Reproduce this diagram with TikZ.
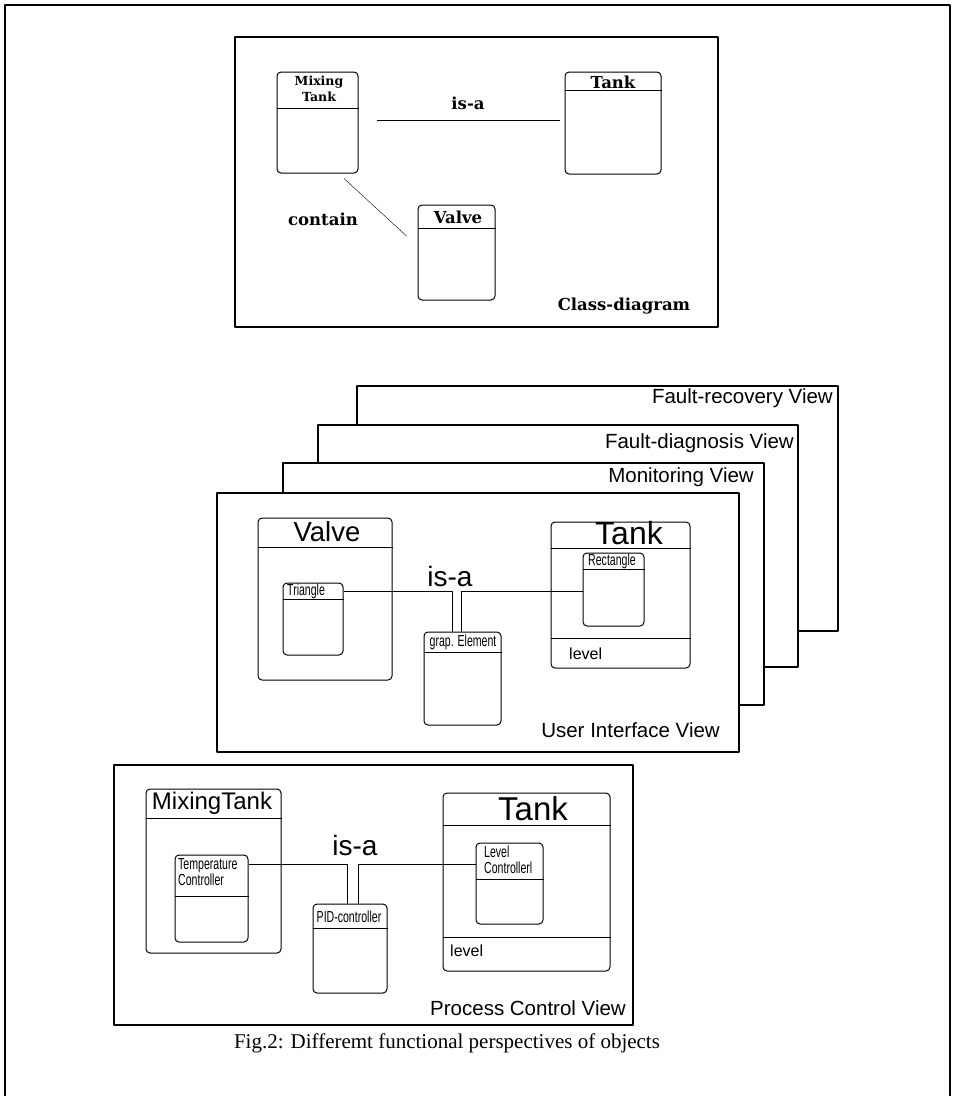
\documentclass[tikz,border=0pt]{standalone}
\usepackage{fontspec}
\setmainfont{Liberation Serif}
\newfontfamily\viewfont{Liberation Sans}
\newfontfamily\narrowfont[FakeStretch=0.66]{Liberation Sans}
\newfontfamily\slabfont{DejaVu Serif}

\tikzset{
  cls/.style={draw, rounded corners=4pt, inner sep=0pt, line width=1pt},
  viewbox/.style={draw, fill=white, inner sep=0pt, line width=1.2pt},
  slab/.style={font=\slabfont\bfseries\fontsize{16.5}{18}\selectfont, inner sep=1pt},
  slabsmall/.style={font=\slabfont\bfseries\fontsize{12.5}{16}\selectfont, inner sep=1pt, align=center},
  viewlabel/.style={font=\viewfont\fontsize{20.5}{22}\selectfont, anchor=east, inner sep=1pt},
  bigname/.style={font=\viewfont\fontsize{27.5}{28}\selectfont, inner sep=1pt},
  attr/.style={font=\viewfont\fontsize{16}{18}\selectfont, anchor=west, inner sep=1pt},
  small/.style={font=\narrowfont\fontsize{16}{16}\selectfont, inner sep=1pt, align=left}
}

\begin{document}
\begin{tikzpicture}[x=1pt, y=-1pt, line join=round]
                \useasboundingbox (0,0) rectangle (955,1096);
                \draw[line width=1.6pt] (5,1096) -- (5,5) -- (950,5) -- (950,1096);

                \node[viewbox, minimum width=483pt, minimum height=290pt] (cd) at (476.5,182) {};
                \node[cls, minimum width=81pt, minimum height=101pt] (mt) at (317.5,122.5) {};
                \node[cls, minimum width=96pt, minimum height=102pt] (tk) at (613,123) {};
                \node[cls, minimum width=77pt, minimum height=95pt] (vl) at (456.5,252.5) {};
                \draw (mt.west |- 0,108) -- (mt.east |- 0,108);
                \draw (tk.west |- 0,90) -- (tk.east |- 0,90);
                \draw (vl.west |- 0,228) -- (vl.east |- 0,228);
                \node[slabsmall] (mtname) at (319,89) {Mixing\\Tank};
                \node[slab] (tkname) at (613,82) {Tank};
                \node[slab] (vlname) at (458,217) {Valve};
                \draw ([shift={(18,-2.5)}]mt.east) -- node[slab, above=9pt] (cdisa) {is-a} ([shift={(-5,-3)}]tk.west);
                \draw ([shift={(26.5,5)}]mt.south) -- ([shift={(-11,-16.5)}]vl.west);
                \node[slab] (contain) at (323,219) {contain};
                \node[slab] (cdlabel) at (624,306) {Class-diagram};

                \node[viewbox, minimum width=481pt, minimum height=245pt] (fr) at (597.5,508.5) {};
                \node[viewlabel] (frlabel) at (834,398) {Fault-recovery View};
                \node[viewbox, minimum width=480pt, minimum height=242pt] (fd) at (558,546) {};
                \node[viewlabel] (fdlabel) at (795,443) {Fault-diagnosis View};
                \node[viewbox, minimum width=481pt, minimum height=242pt] (mon) at (523.5,584) {};
                \node[viewlabel] (monlabel) at (755,477) {Monitoring View};
                \node[viewbox, minimum width=522pt, minimum height=259pt] (ui) at (478,622.5) {};
                \node[viewlabel] (uilabel) at (721,730) {User Interface View};

                \node[cls, minimum width=134pt, minimum height=162pt] (uvl) at (325,599) {};
                \draw (uvl.west |- 0,547) -- (uvl.east |- 0,547);
                \node[bigname] (uvlname) at (327,532) {Valve};
                \node[cls, minimum width=60pt, minimum height=72pt] (tri) at (313,619) {};
                \draw (tri.west |- 0,599) -- (tri.east |- 0,599);
                \node[small, anchor=west] (triname) at (286,591) {Triangle};
                \node[cls, minimum width=139pt, minimum height=146pt] (utk) at (620.5,595) {};
                \draw (utk.west |- 0,548) -- (utk.east |- 0,548);
                \draw (utk.west |- 0,638) -- (utk.east |- 0,638);
                \node[bigname, font=\viewfont\fontsize{32}{32}\selectfont] (utkname) at (629,533) {Tank};
                \node[attr] (ulevel) at (568,654) {level};
                \node[cls, minimum width=61pt, minimum height=73pt] (rect) at (613.5,589.5) {};
                \draw (rect.west |- 0,569) -- (rect.east |- 0,569);
                \node[small] (rectname) at (612,561) {Rectangle};
                \node[cls, minimum width=77pt, minimum height=93pt] (grap) at (462.5,678.5) {};
                \draw (grap.west |- 0,652) -- (grap.east |- 0,652);
                \node[small] (grapname) at (463,642) {grap. Element};
                \coordinate (uijoin) at (0,591);
                \draw (tri.east |- uijoin) -| ([xshift=-10pt]grap.north);
                \draw (rect.west |- uijoin) -| ([xshift=-1pt]grap.north);
                \node[bigname, font=\viewfont\fontsize{28}{30}\selectfont] (uiisa) at (450,576) {is-a};

                \node[viewbox, minimum width=519pt, minimum height=260pt] (pcv) at (373.5,895) {};
                \node[viewlabel] (pcvlabel) at (627,1008) {Process Control View};
                \node[cls, minimum width=135pt, minimum height=164pt] (mx) at (213.5,871) {};
                \draw (mx.west |- 0,818) -- (mx.east |- 0,818);
                \node[bigname, font=\viewfont\fontsize{24}{26}\selectfont] (mxname) at (212,803) {MixingTank};
                \node[cls, minimum width=73pt, minimum height=87pt] (tc) at (211.5,898.5) {};
                \draw (tc.west |- 0,896) -- (tc.east |- 0,896);
                \node[small, anchor=west] (tcname) at (177,872) {Temperature\\Controller};
                \node[cls, minimum width=167pt, minimum height=178pt] (ptk) at (526.5,882) {};
                \draw (ptk.west |- 0,825) -- (ptk.east |- 0,825);
                \draw (ptk.west |- 0,937) -- (ptk.east |- 0,937);
                \node[bigname, font=\viewfont\fontsize{33}{34}\selectfont] (ptkname) at (533,809) {Tank};
                \node[attr] (plevel) at (449,951) {level};
                \node[cls, minimum width=67pt, minimum height=81pt] (lc) at (509.5,883.5) {};
                \draw (lc.west |- 0,879) -- (lc.east |- 0,879);
                \node[small, anchor=west] (lcname) at (483,860) {Level\\Controllerl};
                \node[cls, minimum width=74pt, minimum height=89pt] (pid) at (350,948.5) {};
                \draw (pid.west |- 0,928) -- (pid.east |- 0,928);
                \node[small] (pidname) at (349,917) {PID-controller};
                \coordinate (pcjoin) at (0,864);
                \draw (tc.east |- pcjoin) -| ([xshift=-3pt]pid.north);
                \draw (lc.west |- pcjoin) -| ([xshift=8pt]pid.north);
                \node[bigname, font=\viewfont\fontsize{28}{30}\selectfont] (pcisa) at (355,845) {is-a};

                \node[font=\fontsize{21}{24}\selectfont] (caption) at (447,1043) {Fig.2: Differemt functional perspectives of objects};
\end{tikzpicture}
\end{document}
